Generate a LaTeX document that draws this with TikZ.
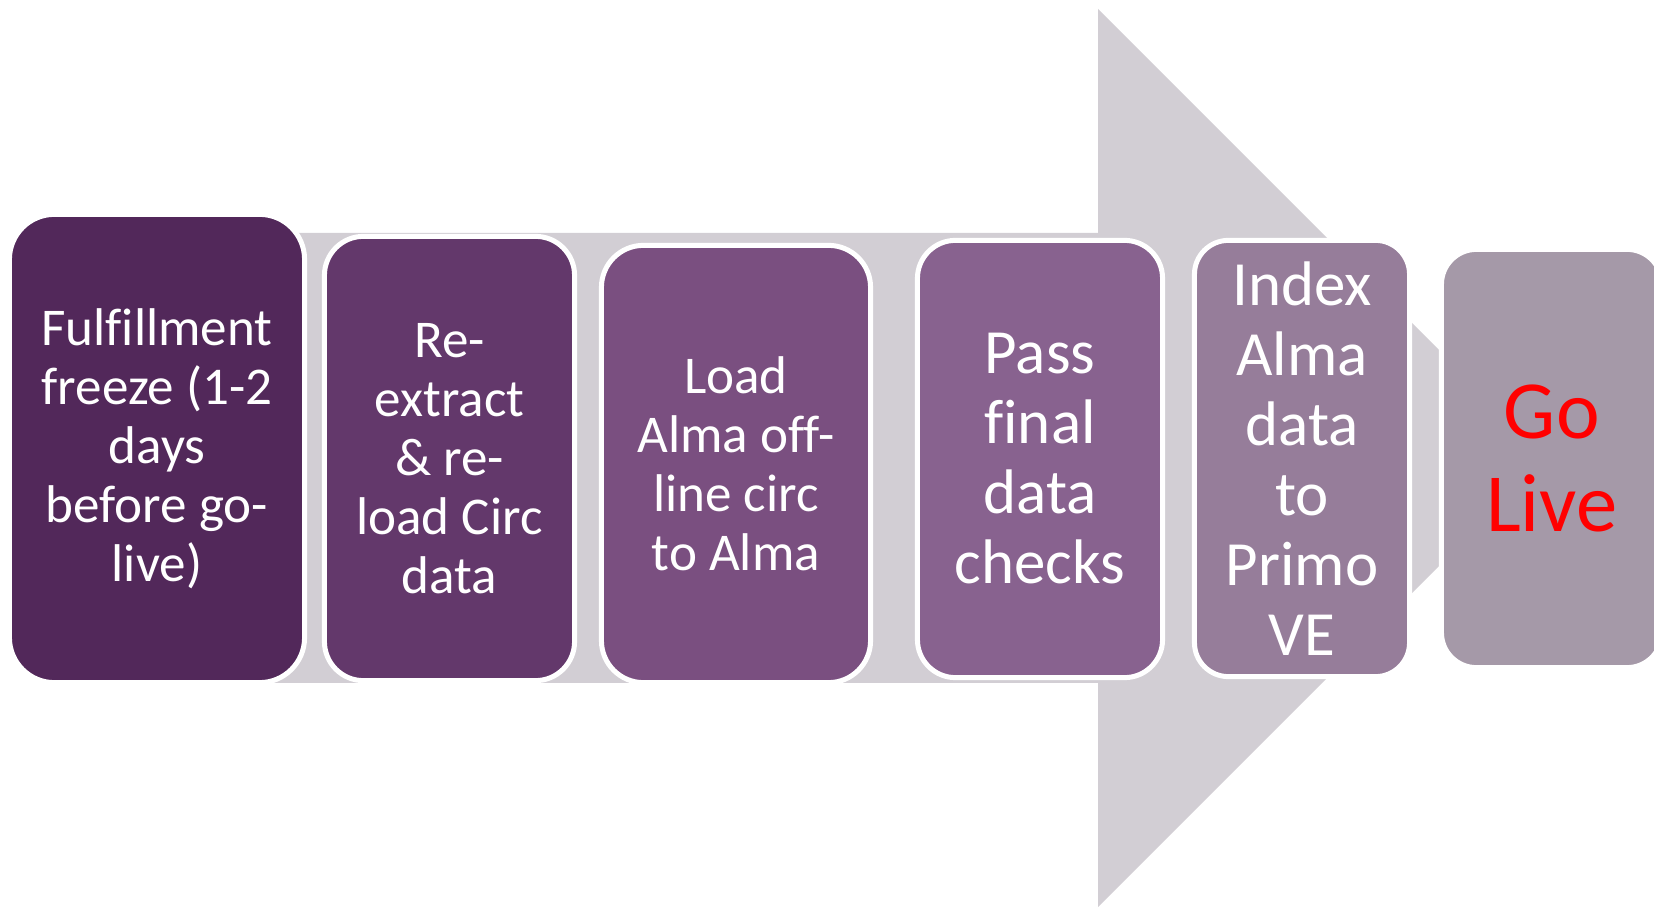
\documentclass[tikz,border=0pt]{standalone}
\usepackage{fontspec}
\setmainfont{Carlito}[Ligatures=NoCommon]
\usepackage{xcolor}
\usepackage{tikz}

\definecolor{arrowgray}{HTML}{D2CED4}
\definecolor{stepone}{HTML}{52285A}
\definecolor{steptwo}{HTML}{63386B}
\definecolor{stepthree}{HTML}{7A4F80}
\definecolor{stepfour}{HTML}{88628F}
\definecolor{stepfive}{HTML}{967D9A}
\definecolor{stepsix}{HTML}{A599A8}

\begin{document}
\begin{tikzpicture}[x=0.01cm, y=-0.01cm,
  stage/.style={draw=white, line width=0.05cm, text=white, align=center, inner sep=0pt}]
  \useasboundingbox (0,0) rectangle (1654,907);

  % Big grey arrow behind the stages
  \fill[arrowgray] (100,233) -- (1098,233) -- (1098,9) -- (1547,458)
    -- (1098,907) -- (1098,683) -- (100,683) -- cycle;

  % Stages, left to right
  \node[stage, fill=stepone, minimum width=2.95cm, minimum height=4.68cm, rounded corners=0.45cm,
    font=\fontsize{15.1}{16.8}\selectfont] (freeze) at (157,448.5)
    {Fulfillment\\freeze (1-2\\days\\before go-\\live)};
  \node[stage, fill=steptwo, minimum width=2.50cm, minimum height=4.44cm, rounded corners=0.39cm,
    font=\fontsize{15.1}{16.8}\selectfont] (reload) at (449.5,458.5)
    {Re-\\extract\\\& re-\\load Circ\\data};
  \node[stage, fill=stepthree, minimum width=2.69cm, minimum height=4.37cm, rounded corners=0.42cm,
    font=\fontsize{15.1}{16.8}\selectfont] (offline) at (736,464)
    {Load\\Alma off-\\line circ\\to Alma};
  \node[stage, fill=stepfour, minimum width=2.45cm, minimum height=4.37cm, rounded corners=0.38cm,
    font=\fontsize{17.9}{19.9}\selectfont] (checks) at (1040,459)
    {Pass\\final\\data\\checks};
  \node[stage, fill=stepfive, minimum width=2.15cm, minimum height=4.36cm, rounded corners=0.34cm,
    font=\fontsize{17.9}{19.9}\selectfont] (index) at (1302,458.5)
    {Index\\Alma\\data\\to\\Primo\\VE};

  % Last stage
  \node[stage, fill=stepsix, minimum width=2.205cm, minimum height=4.18cm, rounded corners=0.35cm,
    text=red, font=\fontsize{23.5}{26.5}\selectfont] (golive) at (1551.75,458.5)
    {Go\\Live};
\end{tikzpicture}
\end{document}
